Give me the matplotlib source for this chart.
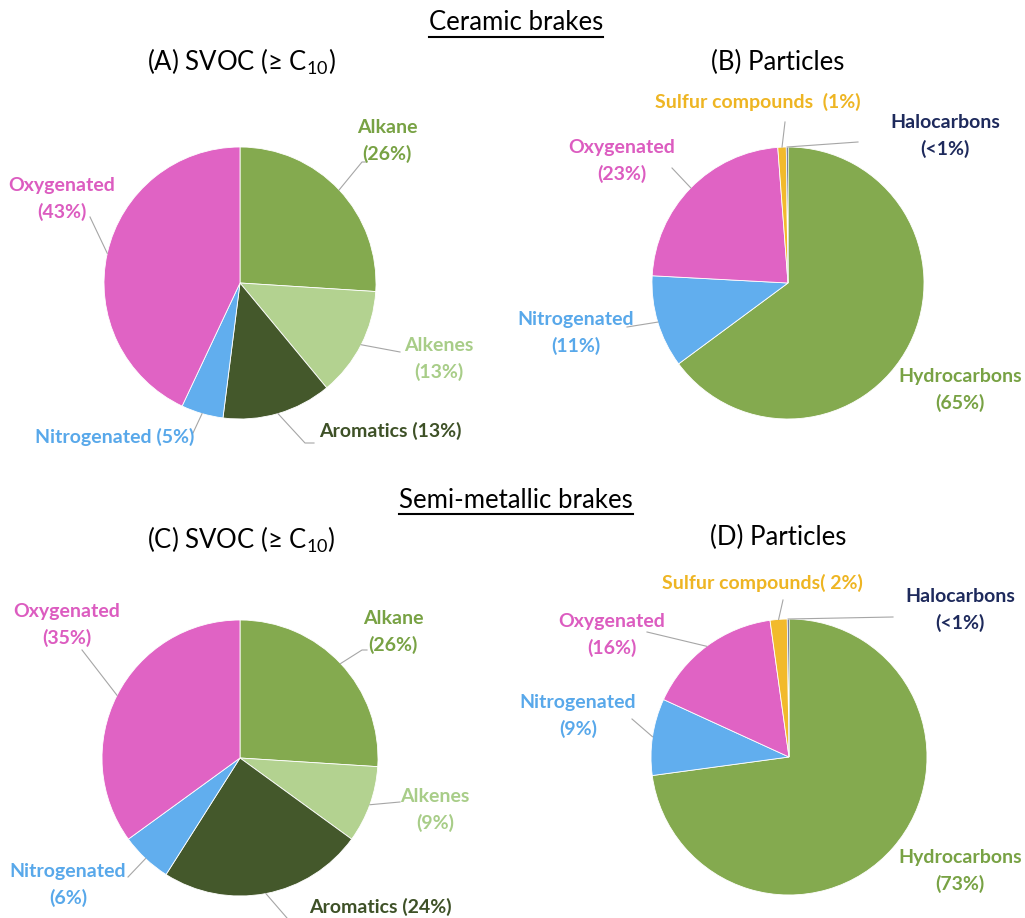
import numpy as np
import matplotlib
matplotlib.use('Agg')
import matplotlib.pyplot as plt
from matplotlib.lines import Line2D

plt.rcParams['font.family'] = ['Lato', 'DejaVu Sans']
plt.rcParams['mathtext.fontset'] = 'custom'
plt.rcParams['mathtext.rm'] = 'Lato'

# --- data ---
svoc_cats = ['Alkane', 'Alkenes', 'Aromatics', 'Nitrogenated', 'Oxygenated']
svoc_ceramic = [26, 13, 13, 5, 43]
svoc_semi = [26, 9, 24, 6, 35]
svoc_ceramic_txt = ['Alkane\n(26%)', 'Alkenes\n(13%)', 'Aromatics (13%)',
                    'Nitrogenated (5%)', 'Oxygenated\n(43%)']
svoc_semi_txt = ['Alkane\n(26%)', 'Alkenes\n(9%)', 'Aromatics (24%)',
                 'Nitrogenated\n(6%)', 'Oxygenated\n(35%)']

part_cats = ['Hydrocarbons', 'Nitrogenated', 'Oxygenated', 'Sulfur compounds', 'Halocarbons']
part_ceramic = [65, 11, 23, 1, 0.2]
part_semi = [73, 9, 16, 2, 0.2]
part_ceramic_txt = ['Hydrocarbons\n(65%)', 'Nitrogenated\n(11%)', 'Oxygenated\n(23%)',
                    'Sulfur compounds  (1%)', 'Halocarbons\n(<1%)']
part_semi_txt = ['Hydrocarbons\n(73%)', 'Nitrogenated\n(9%)', 'Oxygenated\n(16%)',
                 'Sulfur compounds( 2%)', 'Halocarbons\n(<1%)']

svoc_colors = ['#84AA4F', '#B3D290', '#44582B', '#61AEEE', '#E063C4']
svoc_txt_colors = ['#78A244', '#A8CD88', '#3E5127', '#58A8EA', '#DC5CC0']
part_colors = ['#84AA4F', '#61AEEE', '#E063C4', '#F2BA2C', '#1F2A5E']
part_txt_colors = ['#78A244', '#58A8EA', '#DC5CC0', '#EEB523', '#1E2A5C']

W, H = 1025, 918
fig = plt.figure(figsize=(W / 100, H / 100), dpi=100)

# layout (pixels): pie centre, radius, label positions, leader end points
layouts = [
    dict(c=(240, 283), r=136, vals=svoc_ceramic, txt=svoc_ceramic_txt,
         cols=svoc_colors, tcols=svoc_txt_colors,
         pos=[(387, 141), (439, 359), (390, 431), (115, 437), (62, 199)],
         lead=[[(362, 162), (366, 162)], [(400, 352)], [(305, 443), (314, 443)],
               [(193, 433)], [(90, 217)]]),
    dict(c=(788, 283), r=136, vals=part_ceramic, txt=part_ceramic_txt,
         cols=part_colors, tcols=part_txt_colors,
         pos=[(960, 390), (576, 333), (622, 161), (758, 102), (945, 136)],
         lead=[None, [(627, 327)], [(672, 168)], [(785, 122)], [(858, 142)]]),
    dict(c=(240, 758), r=138, vals=svoc_semi, txt=svoc_semi_txt,
         cols=svoc_colors, tcols=svoc_txt_colors,
         pos=[(393, 632), (435, 810), (380, 907), (68, 885), (67, 625)],
         lead=[[(362, 650), (367, 650)], [(400, 802)], [(287, 918)],
               [(128, 877)], [(82, 650)]]),
    dict(c=(789, 757), r=138, vals=part_semi, txt=part_semi_txt,
         cols=part_colors, tcols=part_txt_colors,
         pos=[(960, 871), (578, 716), (612, 635), (762, 583), (960, 610)],
         lead=[None, [(632, 719)], [(647, 632)], [(783, 600)], [(893, 617)]]),
]

for L in layouts:
    cx, cy = L['c']
    R = L['r']
    ax = fig.add_axes([(cx - R) / W, 1 - (cy + R) / H, 2 * R / W, 2 * R / H])
    wedges, _ = ax.pie(L['vals'], colors=L['cols'], startangle=90, counterclock=False,
                       radius=1, wedgeprops=dict(edgecolor='white', linewidth=0.6))
    ax.set_xlim(-1, 1)
    ax.set_ylim(-1, 1)
    ax.axis('off')

    def conv(p):
        return (p[0] - cx) / R, (cy - p[1]) / R

    for w, t, tc, p, ld in zip(wedges, L['txt'], L['tcols'], L['pos'], L['lead']):
        x, y = conv(p)
        ax.text(x, y, t, color=tc, fontsize=14, fontweight='bold', ha='center',
                va='center', linespacing=1.55, clip_on=False)
        if ld:
            th = np.deg2rad((w.theta1 + w.theta2) / 2)
            xs = [np.cos(th)] + [conv(q)[0] for q in ld]
            ys = [np.sin(th)] + [conv(q)[1] for q in ld]
            ax.plot(xs, ys, color='#A6A6A6', lw=0.8, clip_on=False)

# titles
def ftext(px, py, s, size, underline=False):
    t = fig.text(px / W, 1 - py / H, s, fontsize=size, ha='center', va='center')
    if underline:
        fig.canvas.draw()
        bb = t.get_window_extent()
        y = bb.y0 - 1
        fig.add_artist(Line2D([bb.x0 / W, bb.x1 / W], [y / H, y / H], color='black', lw=1.5))
    return t

ftext(516, 23, 'Ceramic brakes', 18.5, underline=True)
ftext(241, 62, r'(A) SVOC (≥ C$_{10}$)', 18.5)
ftext(778, 62, '(B) Particles', 18.5)
ftext(516, 500, 'Semi-metallic brakes', 18.5, underline=True)
ftext(241, 540, r'(C) SVOC (≥ C$_{10}$)', 18.5)
ftext(778, 537, '(D) Particles', 18.5)

fig.savefig('out.png', dpi=100)
